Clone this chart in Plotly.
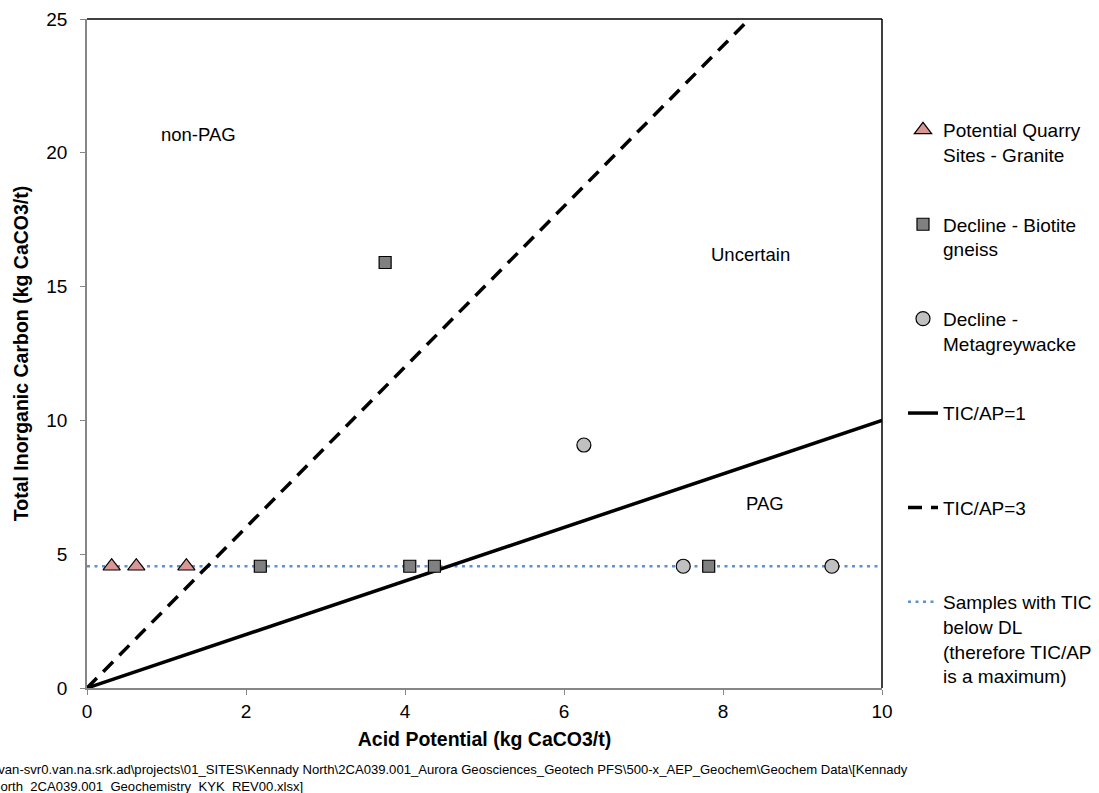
import plotly.graph_objects as go

# ---- data ----
granite_ap = [0.31, 0.62, 1.25]
granite_tic = [4.55, 4.55, 4.55]

biotite_ap = [2.18, 3.75, 4.06, 4.37, 7.82]
biotite_tic = [4.55, 15.9, 4.55, 4.55, 4.55]

metagw_ap = [6.25, 7.50, 9.37]
metagw_tic = [9.08, 4.55, 4.55]

ratio1_ap = [0, 10]
ratio1_tic = [0, 10]
ratio3_ap = [0, 25 / 3]
ratio3_tic = [0, 25]
dl_ap = [0, 10]
dl_tic = [4.55, 4.55]

region_labels = ["non-PAG", "Uncertain", "PAG"]
region_ap = [1.40, 8.34, 8.53]
region_tic = [20.7, 16.2, 6.9]

x_ticks = [0, 2, 4, 6, 8, 10]
y_ticks = [0, 5, 10, 15, 20, 25]

FONT = "Liberation Sans, Arial, sans-serif"

W, H = 1099, 793
L, T, R, B = 87, 19, 217, 105
PW, PH = W - L - R, H - T - B

fig = go.Figure()

fig.add_trace(go.Scatter(
    x=dl_ap, y=dl_tic, mode="lines",
    name="Samples with TIC<br>below DL<br>(therefore TIC/AP<br>is a maximum)",
    line=dict(color="#5b8fd6", width=2.5, dash="3px,4.5px"),
    legendrank=6, legendgroup="g6"))
fig.add_trace(go.Scatter(
    x=ratio1_ap, y=ratio1_tic, mode="lines", name="TIC/AP=1<br>&nbsp;",
    line=dict(color="black", width=3.5), legendrank=4, legendgroup="g4"))
fig.add_trace(go.Scatter(
    x=ratio3_ap, y=ratio3_tic, mode="lines", name="TIC/AP=3<br>&nbsp;",
    line=dict(color="black", width=3.5, dash="14px,9px"), legendrank=5, legendgroup="g5"))

fig.add_trace(go.Scatter(
    x=granite_ap, y=granite_tic, mode="markers",
    name="Potential Quarry<br>Sites - Granite",
    marker=dict(symbol="triangle-up", size=15, color="#d99694",
                line=dict(color="black", width=1.2)),
    legendrank=1, legendgroup="g1"))
fig.add_trace(go.Scatter(
    x=biotite_ap, y=biotite_tic, mode="markers",
    name="Decline - Biotite<br>gneiss",
    marker=dict(symbol="square", size=12, color="#808080",
                line=dict(color="black", width=1.2)),
    legendrank=2, legendgroup="g2"))
fig.add_trace(go.Scatter(
    x=metagw_ap, y=metagw_tic, mode="markers",
    name="Decline -<br>Metagreywacke",
    marker=dict(symbol="circle", size=14, color="#c0c0c0",
                line=dict(color="black", width=1.2)),
    legendrank=3, legendgroup="g3"))

for t, xa, ya in zip(region_labels, region_ap, region_tic):
    fig.add_annotation(x=xa, y=ya, text=t, showarrow=False,
                       font=dict(family=FONT, size=18.5, color="black"))

fig.add_annotation(
    xref="paper", yref="paper", x=(-11 - L) / PW, y=-(760 - (T + PH)) / PH,
    xanchor="left", yanchor="top", align="left", showarrow=False,
    text="\\\\van-svr0.van.na.srk.ad\\projects\\01_SITES\\Kennady North\\2CA039.001_Aurora Geosciences_Geotech PFS\\500-x_AEP_Geochem\\Geochem Data\\[Kennady<br>North_2CA039.001_Geochemistry_KYK_REV00.xlsx]",
    font=dict(family=FONT, size=13.1, color="black"))

# top and right frame
fig.add_shape(type="line", xref="paper", yref="paper", x0=0, x1=1, y0=1, y1=1,
              line=dict(color="black", width=1.5))
fig.add_shape(type="line", xref="paper", yref="paper", x0=1, x1=1, y0=0, y1=1,
              line=dict(color="black", width=1.5))

fig.update_layout(
    width=W, height=H,
    margin=dict(l=L, r=R, t=T, b=B, autoexpand=False),
    paper_bgcolor="white", plot_bgcolor="white",
    font=dict(family=FONT, size=19, color="black"),
    legend=dict(x=1 + 21 / PW, y=1 - (111 - T) / PH, xanchor="left", yanchor="top",
                font=dict(family=FONT, size=19, color="black"),
                valign="top", tracegroupgap=42, bgcolor="rgba(0,0,0,0)"),
    xaxis=dict(range=[0, 10], tickvals=x_ticks, showgrid=False, zeroline=False,
               showline=True, linecolor="#868686", linewidth=1.5,
               ticks="outside", tickcolor="#868686", ticklen=5,
               tickfont=dict(size=19), automargin=False,
               title=dict(text="<b>Acid Potential (kg CaCO3/t)</b>", font=dict(size=19.5), standoff=12)),
    yaxis=dict(range=[0, 25], tickvals=y_ticks, showgrid=False, zeroline=False,
               showline=True, linecolor="#868686", linewidth=1.5,
               ticks="outside", tickcolor="#868686", ticklen=5,
               tickfont=dict(size=19), automargin=False, ticklabelstandoff=9,
               title=dict(text="<b>Total Inorganic Carbon (kg CaCO3/t)</b>", font=dict(size=19.5), standoff=12)),
)

fig.write_html("out.html", config={"displayModeBar": False},
               post_script="document.body.style.margin='0px';document.body.style.overflow='hidden';")
